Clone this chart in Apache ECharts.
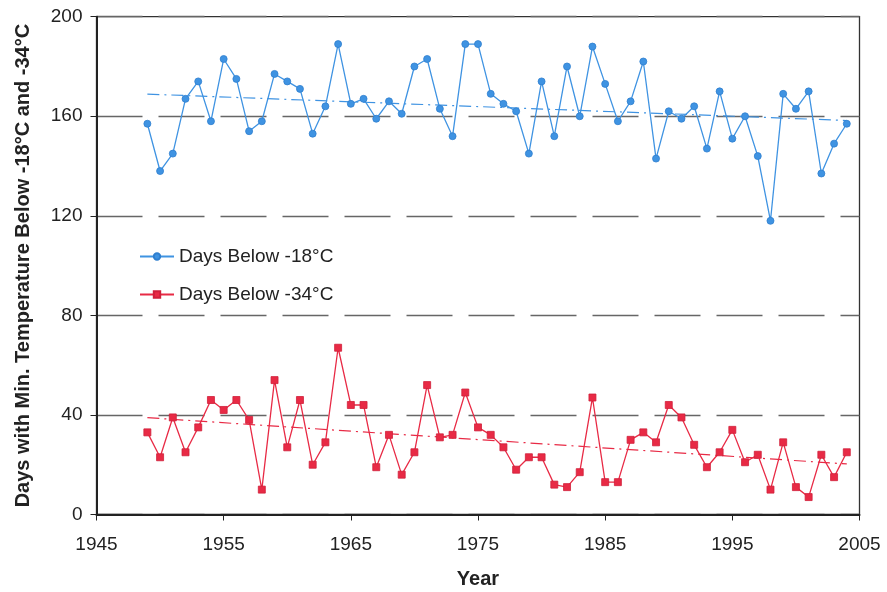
<!DOCTYPE html>
<html>
<head>
<meta charset="utf-8">
<script src="https://cdn.jsdelivr.net/npm/echarts@6/dist/echarts.min.js"></script>
<style>
  html, body { margin: 0; padding: 0; background: #fff; }
  #chart-container { width: 887px; height: 592px; }
</style>
</head>
<body>
<div id="chart-container"></div>
<script>
// x axis starts at 1945, ticks every 10 years -> offset years so min is 0
const baseYear = 1945;

const years = [
  1949, 1950, 1951, 1952, 1953, 1954, 1955, 1956, 1957, 1958,
  1959, 1960, 1961, 1962, 1963, 1964, 1965, 1966, 1967, 1968,
  1969, 1970, 1971, 1972, 1973, 1974, 1975, 1976, 1977, 1978,
  1979, 1980, 1981, 1982, 1983, 1984, 1985, 1986, 1987, 1988,
  1989, 1990, 1991, 1992, 1993, 1994, 1995, 1996, 1997, 1998,
  1999, 2000, 2001, 2002, 2003, 2004
];

// days below -18C
const below18 = [
  157, 138, 145, 167, 174, 158, 183, 175, 154, 158,
  177, 174, 171, 153, 164, 189, 165, 167, 159, 166,
  161, 180, 183, 163, 152, 189, 189, 169, 165, 162,
  145, 174, 152, 180, 160, 188, 173, 158, 166, 182,
  143, 162, 159, 164, 147, 170, 151, 160, 144, 118,
  169, 163, 170, 137, 149, 157
];

// days below -34C
const below34 = [
  33, 23, 39, 25, 35, 46, 42, 46, 38, 10,
  54, 27, 46, 20, 29, 67, 44, 44, 19, 32,
  16, 25, 52, 31, 32, 49, 35, 32, 27, 18,
  23, 23, 12, 11, 17, 47, 13, 13, 30, 33,
  29, 44, 39, 28, 19, 25, 34, 21, 24, 10,
  29, 11, 7, 24, 15, 25
];

// linear trend end points
const trendYears = [1949, 2004];
const trend18 = [168.9, 158.3];
const trend34 = [38.9, 20.3];

const blue = '#3f93e2';
const red = '#e82a45';

function pairs(xs, ys) {
  return xs.map((y, i) => [y - baseYear, ys[i]]);
}

var dom = document.getElementById('chart-container');
var myChart = echarts.init(dom, null, { renderer: 'canvas' });

var font = 'Liberation Sans, Arial, sans-serif';

var option = {
  animation: false,
  textStyle: { fontFamily: font },
  grid: {
    left: 96.5, right: 27.5, top: 16.7, bottom: 77.5,
    outerBoundsMode: 'none',
    show: true, borderColor: '#333', borderWidth: 1.3
  },
  legend: {
    orient: 'vertical',
    left: 134, top: 242,
    itemGap: 19,
    itemWidth: 34, itemHeight: 8,
    textStyle: { fontSize: 19, color: '#222', fontFamily: font },
    data: ['Days Below -18°C', 'Days Below -34°C']
  },
  xAxis: {
    type: 'value',
    min: 0, max: 60, interval: 10,
    name: 'Year',
    nameLocation: 'middle',
    nameGap: 55,
    nameTextStyle: { fontSize: 20, fontWeight: 'bold', color: '#222', fontFamily: font },
    axisLine: { lineStyle: { color: '#222', width: 2 } },
    axisTick: { show: true, inside: false, length: 6, lineStyle: { color: '#222' } },
    axisLabel: {
      fontSize: 19, color: '#222', margin: 21,
      formatter: v => String(v + baseYear)
    },
    splitLine: { show: false }
  },
  yAxis: {
    type: 'value',
    min: 0, max: 200, interval: 40,
    name: 'Days with Min. Temperature Below -18°C and -34°C',
    nameLocation: 'middle',
    nameGap: 63,
    nameTextStyle: { fontSize: 20, fontWeight: 'bold', color: '#222', fontFamily: font },
    axisLine: { show: true, lineStyle: { color: '#222', width: 2 } },
    axisTick: { show: true, length: 6, lineStyle: { color: '#222' } },
    axisLabel: { fontSize: 19, color: '#222', margin: 14 },
    splitLine: { show: true, lineStyle: { color: '#666', width: 1.3, type: [46, 16] } }
  },
  series: [
    {
      name: 'Days Below -18°C',
      type: 'line',
      data: pairs(years, below18),
      symbol: 'circle',
      symbolSize: 7,
      itemStyle: { color: blue, borderColor: '#2f7fcf', borderWidth: 0.8 },
      lineStyle: { color: blue, width: 1.3 },
      z: 3
    },
    {
      name: 'Days Below -34°C',
      type: 'line',
      data: pairs(years, below34),
      symbol: 'rect',
      symbolSize: 7,
      itemStyle: { color: red, borderColor: '#d01f3a', borderWidth: 0.8 },
      lineStyle: { color: red, width: 1.3 },
      z: 3
    },
    {
      name: 'trend18',
      type: 'line',
      data: pairs(trendYears, trend18),
      symbol: 'none',
      lineStyle: { color: blue, width: 1.2, type: [12, 5, 2, 5] },
      silent: true,
      z: 2
    },
    {
      name: 'trend34',
      type: 'line',
      data: pairs(trendYears, trend34),
      symbol: 'none',
      lineStyle: { color: red, width: 1.2, type: [12, 5, 2, 5] },
      silent: true,
      z: 2
    }
  ]
};

myChart.setOption(option);
window.addEventListener('resize', myChart.resize);
</script>
</body>
</html>
